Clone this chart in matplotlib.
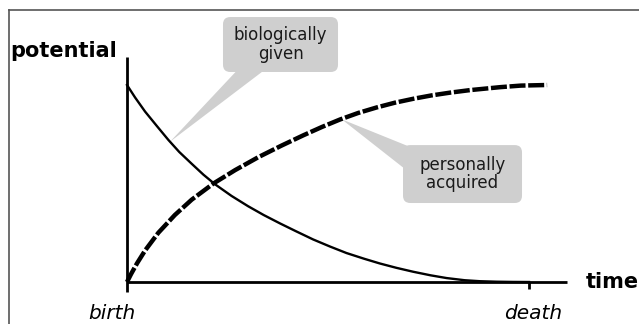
import numpy as np
import matplotlib
matplotlib.use("Agg")
import matplotlib.pyplot as plt
from matplotlib.patches import FancyBboxPatch, Polygon
from matplotlib.lines import Line2D

# ── data: time runs 0 (birth) .. 1 (death), potential 0 .. 1 ───────────────
given_t = [0.0, 0.02, 0.045, 0.075, 0.103, 0.13, 0.161, 0.19, 0.219, 0.26,
           0.301, 0.34, 0.381, 0.42, 0.463, 0.505, 0.546, 0.59, 0.629, 0.67,
           0.712, 0.755, 0.795, 0.84, 0.878, 0.92, 0.96, 1.0]
given_p = [1.0, 0.937, 0.865, 0.790, 0.721, 0.660, 0.600, 0.545, 0.496, 0.437,
           0.385, 0.340, 0.297, 0.258, 0.216, 0.180, 0.147, 0.118, 0.094, 0.072,
           0.052, 0.034, 0.020, 0.009, 0.004, 0.0015, 0.0004, 0.0]

acquired_t = [0.0, 0.01, 0.025, 0.045, 0.078, 0.119, 0.161, 0.215, 0.269,
              0.327, 0.385, 0.439, 0.485, 0.530, 0.575, 0.621, 0.666, 0.712,
              0.757, 0.803, 0.853, 0.928, 0.98, 1.045]
acquired_p = [0.0, 0.040, 0.095, 0.160, 0.250, 0.340, 0.418, 0.500, 0.568,
              0.634, 0.693, 0.745, 0.787, 0.825, 0.858, 0.886, 0.910, 0.930,
              0.947, 0.961, 0.974, 0.989, 0.997, 1.0]

tick_pos = [0.0, 1.0]
tick_labels = ["birth", "death"]

BOX = '#cfcfcf'
TXT = '#1a1a1a'

fig = plt.figure(figsize=(6.39, 3.24), dpi=100)
ax = fig.add_axes([0, 0, 1, 1])
ax.axis('off')
# pixel mapping: x=0 -> 127 px, x=1 -> 529 px ; y=0 -> 282 px, y=1 -> 85 px (from top)
ax.set_xlim(-127 / 402, (639 - 127) / 402)
ax.set_ylim((282 - 324) / 197, 282 / 197)

# ── axes drawn by hand ─────────────────────────────────────────────────────
ax.plot([0, 0], [-0.051, 1.142], color='k', lw=2.0, solid_capstyle='butt')
ax.plot([0, 1.095], [0, 0], color='k', lw=2.0, solid_capstyle='butt')
ax.plot([1, 1], [0, -0.036], color='k', lw=2.0, solid_capstyle='butt')

# ── curves ─────────────────────────────────────────────────────────────────
ax.plot(given_t, given_p, color='k', lw=1.7, solid_joinstyle='round')
ax.plot(acquired_t, acquired_p, color='k', lw=3.2,
        linestyle=(0, (3.6, 0.6)), dash_capstyle='butt')

# ── labels ─────────────────────────────────────────────────────────────────
ax.text(-0.291, 1.142, "potential", fontsize=15, fontweight='bold',
        ha='left', va='baseline')
ax.text(1.142, -0.030, "time", fontsize=15, fontweight='bold',
        ha='left', va='baseline')
ax.text(tick_pos[0] - 0.037, -0.188, tick_labels[0], fontsize=14.5,
        style='italic', ha='center', va='baseline')
ax.text(tick_pos[1] + 0.01, -0.188, tick_labels[1], fontsize=14.5,
        style='italic', ha='center', va='baseline')

# ── callouts ───────────────────────────────────────────────────────────────
aspect = 402 / 197


def callout(x0, x1, y0, y1, tip, base, label):
    ax.add_patch(Polygon([base[0], tip, base[1]], closed=True,
                         facecolor=BOX, edgecolor='none', zorder=1))
    ax.add_patch(FancyBboxPatch((x0, y0), x1 - x0, y1 - y0,
                                boxstyle='round,pad=0,rounding_size=0.018',
                                mutation_aspect=aspect,
                                facecolor=BOX, edgecolor='none', zorder=1))
    ax.text((x0 + x1) / 2, (y0 + y1) / 2, label, fontsize=12, color=TXT,
            ha='center', va='center', linespacing=1.05, zorder=2)


callout(0.2388, 0.5249, 1.066, 1.345, (0.107, 0.712),
        [(0.281, 1.09), (0.351, 1.09)], "biologically\ngiven")
callout(0.6866, 0.9826, 0.401, 0.695, (0.534, 0.826),
        [(0.705, 0.685), (0.700, 0.560)], "personally\nacquired")

# ── frame (top & left only) ────────────────────────────────────────────────
fig.add_artist(Line2D([9 / 639, 1], [1 - 10 / 324, 1 - 10 / 324],
                      color='#555555', lw=1.2))
fig.add_artist(Line2D([9 / 639, 9 / 639], [0, 1 - 10 / 324],
                      color='#555555', lw=1.2))

fig.savefig('out.png', dpi=100, facecolor='white')
